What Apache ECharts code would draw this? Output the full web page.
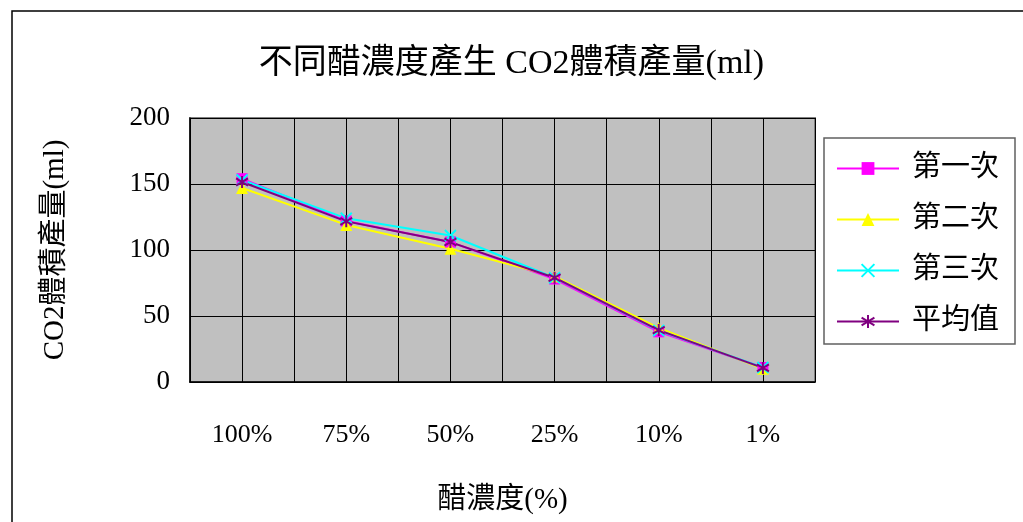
<!DOCTYPE html>
<html>
<head>
<meta charset="utf-8">
<script src="https://cdn.jsdelivr.net/npm/echarts@6/dist/echarts.min.js"></script>
<style>
html,body{margin:0;padding:0;background:#fff;}
#chart{width:1023px;height:522px;}
</style>
</head>
<body>
<div id="chart"></div>
<script>
const categories = ['100%', '75%', '50%', '25%', '10%', '1%'];
const run1 = [154, 122, 106, 78, 38, 11];
const run2 = [147, 119, 101, 80, 41, 10];
const run3 = [153, 124, 111, 79, 39, 11];
const average = [151.5, 121.7, 106, 79, 39.3, 10.7];
const yTicks = { min: 0, max: 200, interval: 50 };
const halfBands = ['a1','a2','b1','b2','c1','c2','d1','d2','e1','e2','f1','f2'];

const FONT = '"Liberation Serif", "Noto Sans CJK TC", serif';
const xPath = 'path://M0,0L10,10M10,0L0,10';
const starPath = 'path://M5,0L5,10M0,2L10,8M0,8L10,2';

const chart = echarts.init(document.getElementById('chart'), null, {renderer: 'canvas'});
chart.setOption({
  animation: false,
  backgroundColor: '#fff',
  graphic: [{
    type: 'rect', silent: true, z: -10,
    shape: {x: 12, y: 11, width: 1100, height: 600},
    style: {fill: 'none', stroke: '#000', lineWidth: 1.5}
  }],
  title: {
    text: '不同醋濃度產生 CO2體積產量(ml)',
    left: 'center',
    top: 42,
    textStyle: {fontFamily: FONT, fontSize: 34, fontWeight: 'normal', color: '#000'}
  },
  legend: {
    orient: 'vertical',
    left: 824, top: 138,
    padding: [16, 16, 8, 12],
    itemGap: 22,
    itemWidth: 62, itemHeight: 16,
    borderColor: '#606060', borderWidth: 1.5,
    textStyle: {fontFamily: FONT, fontSize: 29, color: '#000', padding: [0, 0, 0, 8]},
    data: ['第一次', '第二次', '第三次', '平均值']
  },
  grid: {
    left: 190, top: 118, right: 208, bottom: 140,
    outerBoundsMode: 'none',
    show: true, backgroundColor: '#c0c0c0', borderColor: '#808080', borderWidth: 2
  },
  xAxis: [{
    type: 'category', data: categories, boundaryGap: true,
    axisLine: {show: true, lineStyle: {color: '#000', width: 1.5}},
    axisTick: {show: true, inside: true, length: 5, lineStyle: {color: '#000'}},
    axisLabel: {fontFamily: FONT, fontSize: 26, color: '#000', margin: 40},
    splitLine: {show: false},
    name: '醋濃度(%)', nameLocation: 'middle', nameGap: 104,
    nameTextStyle: {fontFamily: FONT, fontSize: 29, color: '#000'}
  }, {
    type: 'category', data: halfBands, boundaryGap: true, position: 'bottom',
    axisLine: {show: false}, axisTick: {show: false}, axisLabel: {show: false},
    splitLine: {show: true, interval: 0, lineStyle: {color: '#000', width: 1}}
  }],
  yAxis: {
    type: 'value', min: yTicks.min, max: yTicks.max, interval: yTicks.interval,
    axisLine: {show: true, lineStyle: {color: '#000', width: 1.5}},
    axisTick: {show: true, inside: true, length: 5, lineStyle: {color: '#000'}},
    axisLabel: {fontFamily: FONT, fontSize: 27, color: '#000', margin: 20},
    splitLine: {show: true, lineStyle: {color: '#000', width: 1}},
    name: 'CO2體積產量(ml)', nameLocation: 'middle', nameRotate: 90, nameGap: 120,
    nameTextStyle: {fontFamily: FONT, fontSize: 29, color: '#000'}
  },
  series: [{
    name: '第一次', type: 'line', data: run1,
    symbol: 'rect', symbolSize: 11,
    lineStyle: {color: '#ff00ff', width: 2},
    itemStyle: {color: '#ff00ff'}
  }, {
    name: '第二次', type: 'line', data: run2,
    symbol: 'triangle', symbolSize: 12,
    lineStyle: {color: '#ffff00', width: 2},
    itemStyle: {color: '#ffff00'}
  }, {
    name: '第三次', type: 'line', data: run3,
    symbol: xPath, symbolSize: 11,
    lineStyle: {color: '#00ffff', width: 2},
    itemStyle: {color: '#00ffff', borderColor: '#00ffff', borderWidth: 2}
  }, {
    name: '平均值', type: 'line', data: average,
    symbol: starPath, symbolSize: 12,
    lineStyle: {color: '#800080', width: 2},
    itemStyle: {color: '#800080', borderColor: '#800080', borderWidth: 2}
  }]
});
</script>
</body>
</html>
